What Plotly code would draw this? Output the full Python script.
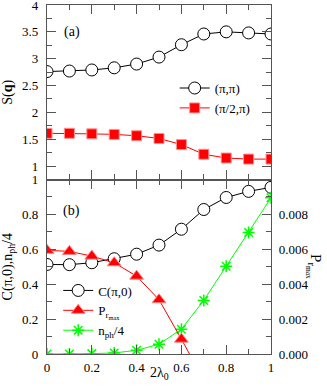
import plotly.graph_objects as go

x = [0.0, 0.1, 0.2, 0.3, 0.4, 0.5, 0.6, 0.7, 0.8, 0.9, 1.0]
s_pipi = [2.76, 2.77, 2.79, 2.83, 2.90, 3.03, 3.26, 3.46, 3.50, 3.48, 3.46]
s_pi2pi = [1.61, 1.61, 1.60, 1.59, 1.565, 1.515, 1.40, 1.22, 1.15, 1.13, 1.13]
c_pi0 = [0.513, 0.512, 0.523, 0.546, 0.572, 0.624, 0.715, 0.828, 0.897, 0.932, 0.955]
x_p = [0.0, 0.1, 0.2, 0.3, 0.4, 0.5, 0.6, 0.7]
p_rmax = [0.00594, 0.00588, 0.00561, 0.00523, 0.00446, 0.00311, 0.00085, -0.0015]
nph4 = [0.0, 0.0, 0.002, 0.006, 0.021, 0.056, 0.142, 0.307, 0.503, 0.696, 0.895]

FONT = "Liberation Serif"
AX = "#555555"

fig = go.Figure()
fig.add_trace(go.Scatter(x=x, y=s_pipi, mode="lines+markers", name="(π,π)",
    line=dict(color="black", width=1),
    marker=dict(symbol="circle", size=12, color="white", line=dict(color="black", width=1)),
    xaxis="x", yaxis="y", legend="legend"))
fig.add_trace(go.Scatter(x=x, y=s_pi2pi, mode="lines+markers", name="(π/2,π)",
    line=dict(color="red", width=1),
    marker=dict(symbol="square", size=10, color="red", line=dict(color="#ff9090", width=1)),
    xaxis="x", yaxis="y", legend="legend"))
fig.add_trace(go.Scatter(x=x, y=c_pi0, mode="lines+markers", name="C(π,0)",
    line=dict(color="black", width=1),
    marker=dict(symbol="circle", size=12, color="white", line=dict(color="black", width=1)),
    xaxis="x2", yaxis="y2", legend="legend2"))
fig.add_trace(go.Scatter(x=x_p, y=p_rmax, mode="lines+markers", name="P<sub>r<sub>max</sub></sub>",
    line=dict(color="red", width=1),
    marker=dict(symbol="triangle-up", size=12, color="red", line=dict(color="#ff8080", width=1)),
    xaxis="x2", yaxis="y3", legend="legend2"))
fig.add_trace(go.Scatter(x=x, y=nph4, mode="lines+markers", name="n<sub>ph</sub>/4",
    line=dict(color="#00ff00", width=1),
    marker=dict(symbol="asterisk-open", size=10, color="#00ff00", line=dict(color="#00ff00", width=1.5)),
    xaxis="x2", yaxis="y2", legend="legend2"))

common = dict(showline=True, linecolor=AX, linewidth=1.2, ticks="inside", tickcolor=AX,
              ticklen=9, tickwidth=1.2, showgrid=False, zeroline=False, automargin=False,
              ticklabeloverflow="allow",
              tickfont=dict(family=FONT, size=13, color="black"))
minor_common = dict(ticks="inside", ticklen=5, tickcolor=AX, tickwidth=1.2)

fig.update_layout(
    width=327, height=392, margin=dict(l=47, r=56, t=5, b=38),
    paper_bgcolor="white", plot_bgcolor="white",
    font=dict(family=FONT, size=13, color="black"),
    xaxis=dict(domain=[0, 1], range=[0, 1], anchor="y", mirror="ticks", dtick=0.2,
               showticklabels=False, minor=dict(dtick=0.1, **minor_common), **common),
    yaxis=dict(domain=[0.5, 1], range=[0.75, 4], anchor="x", mirror="ticks",
               tickvals=[1, 1.5, 2, 2.5, 3, 3.5, 4], ticktext=["1", "1.5", "2", "2.5", "3", "3.5", "4"],
               ticklabelstandoff=5, minor=dict(dtick=0.25, **minor_common),
               title=dict(text="S(<b>q</b>)", standoff=6, font=dict(family=FONT, size=14)),
               **common),
    xaxis2=dict(domain=[0, 1], range=[0, 1], anchor="y2", mirror="ticks",
               tickvals=[0, 0.2, 0.4, 0.6, 0.8, 1.0], ticktext=["0", "0.2", "0.4", "0.6", "0.8", "1"],
               ticklabelstandoff=1, minor=dict(dtick=0.1, **minor_common),
               **common),
    yaxis2=dict(domain=[0, 0.5], range=[0, 1], anchor="x2",
               tickvals=[0, 0.2, 0.4, 0.6, 0.8, 1.0], ticktext=["0", "0.2", "0.4", "0.6", "0.8", "1"],
               ticklabelstandoff=5, minor=dict(dtick=0.1, **minor_common),
               title=dict(text="C(π,0),n<sub>ph</sub>/4", standoff=6, font=dict(family=FONT, size=14)),
               **common),
    yaxis3=dict(overlaying="y2", side="right", range=[0, 0.01], anchor="x2",
               tickvals=[0, 0.002, 0.004, 0.006, 0.008],
               ticktext=["0.000", "0.002", "0.004", "0.006", "0.008"],
               ticklabelstandoff=4, minor=dict(dtick=0.001, **minor_common),
               **common),
    legend=dict(x=0.57, y=0.805, xanchor="left", yanchor="top", bgcolor="rgba(0,0,0,0)",
                font=dict(family=FONT, size=13), itemwidth=30, tracegroupgap=0),
    legend2=dict(x=0.05, y=0.225, xanchor="left", yanchor="top", bgcolor="rgba(0,0,0,0)",
                font=dict(family=FONT, size=13), itemwidth=30, tracegroupgap=0),
    annotations=[
        dict(text="(a)", x=0.11, y=3.5, xref="x", yref="y", showarrow=False,
             font=dict(family=FONT, size=14)),
        dict(text="(b)", x=0.11, y=0.82, xref="x2", yref="y2", showarrow=False,
             font=dict(family=FONT, size=14)),
        dict(text="2λ<sub>0</sub>", x=0.5, y=-0.055, xref="paper", yref="paper",
             showarrow=False, xanchor="center", yanchor="middle",
             font=dict(family=FONT, size=14)),
        dict(text="P<sub>r<sub>max</sub></sub>", x=1.195, y=0.25, xref="paper", yref="paper",
             textangle=90, showarrow=False, xanchor="center", yanchor="middle",
             font=dict(family=FONT, size=15)),
    ],
)

fig.write_html("out.html", config={"displayModeBar": False},
               post_script="document.body.style.margin='0';")
